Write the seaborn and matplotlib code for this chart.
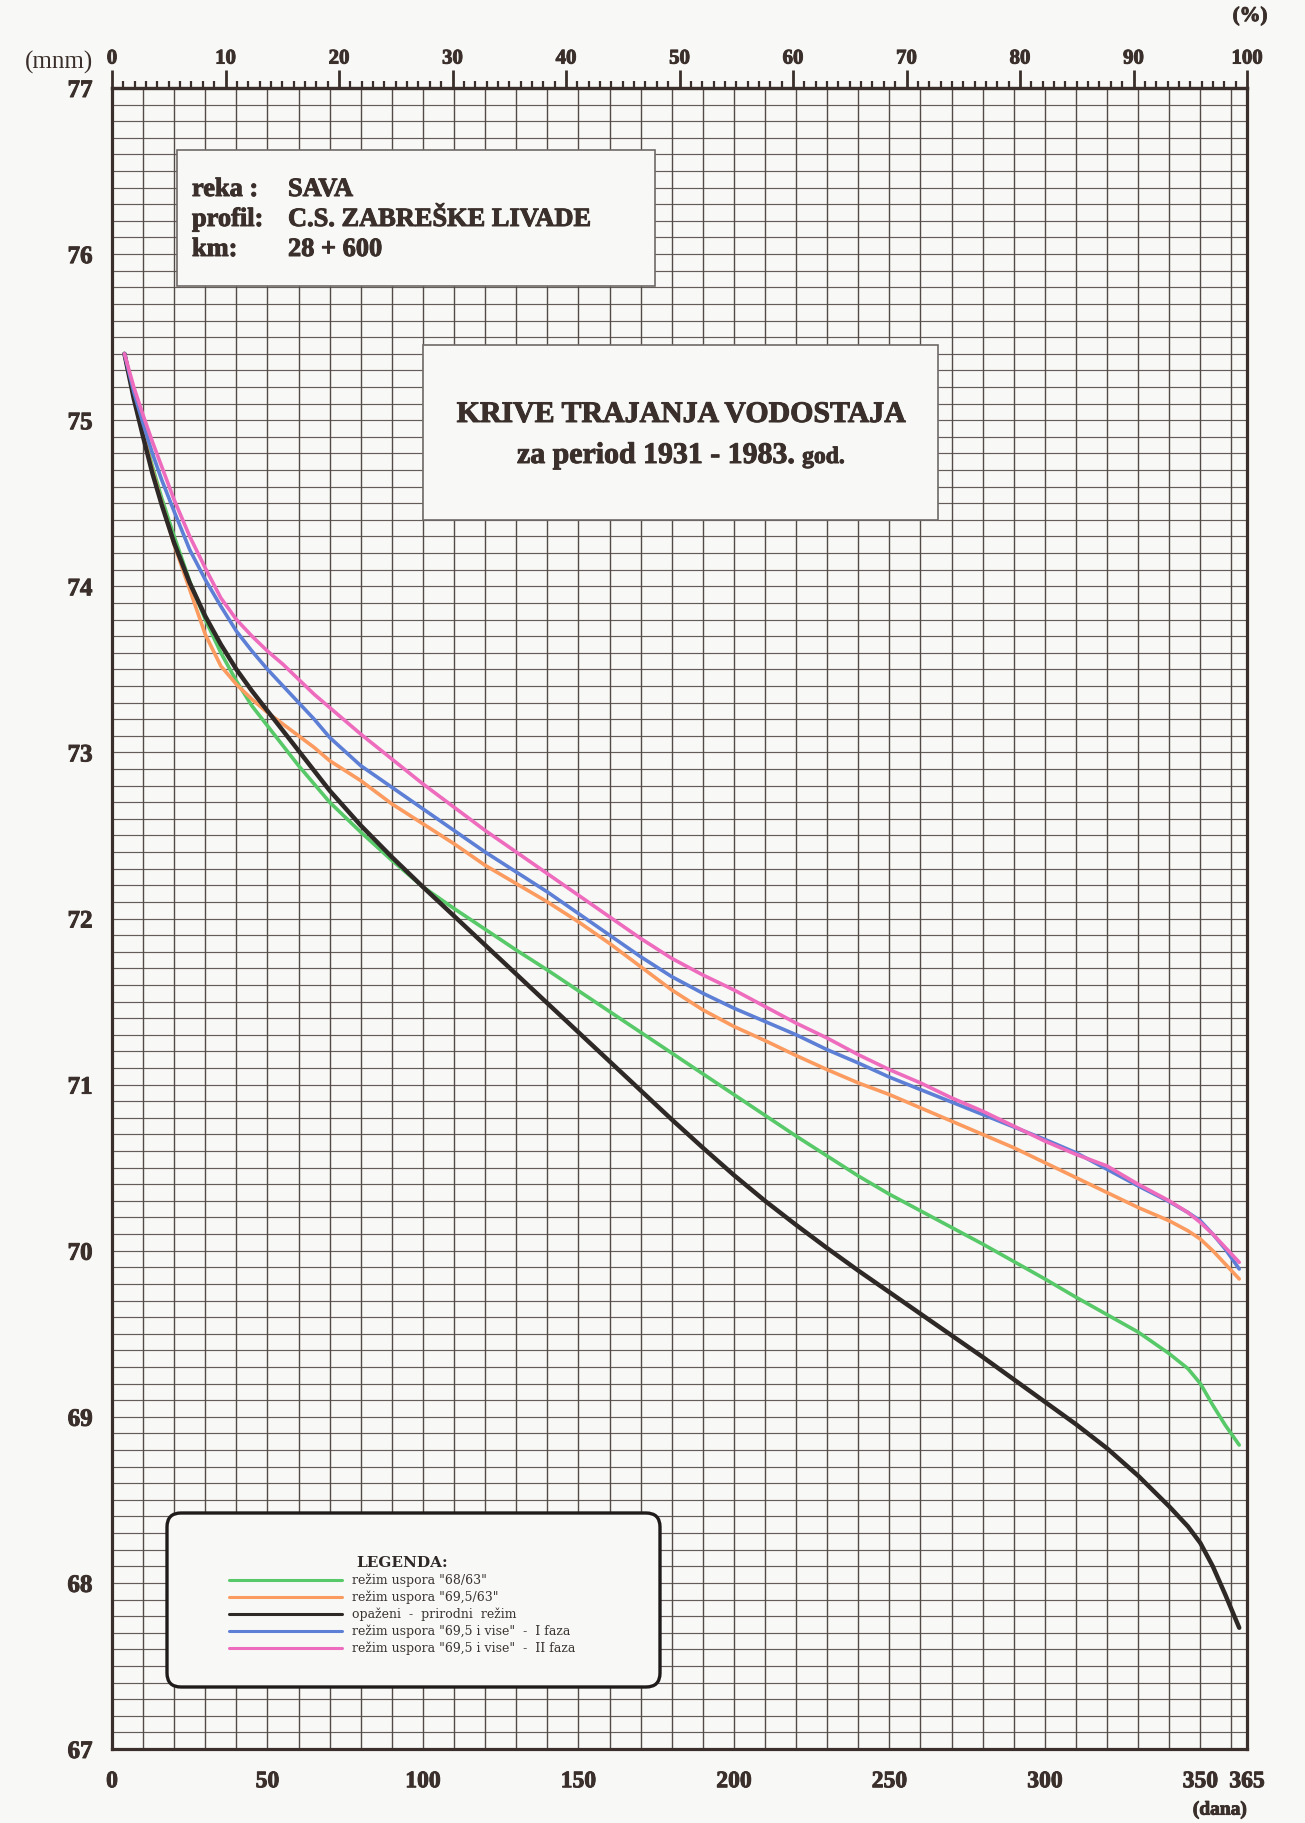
import matplotlib
matplotlib.use("Agg")
import matplotlib.pyplot as plt
import matplotlib.transforms as mtransforms
import matplotlib.patheffects as pe
from matplotlib.patches import Rectangle, FancyBboxPatch
from matplotlib.lines import Line2D
from matplotlib.ticker import MultipleLocator, FixedLocator
import pandas as pd
import seaborn as sns

# ---------------------------------------------------------------- data
# duration (days in the year) at which each water level (m n.m.) is read
days = [4, 7, 10, 13, 16, 20, 25, 30, 35, 40, 45, 50, 55, 60, 65, 70, 80, 90, 100,
        110, 120, 130, 140, 150, 160, 170, 180, 190, 200, 210, 220, 230, 240, 250,
        260, 270, 280, 290, 300, 310, 320, 330, 340, 346, 350, 354, 358, 362.5]

lvl_green = [75.40, 75.15, 74.93, 74.72, 74.53, 74.30, 74.03, 73.80, 73.60, 73.43,
             73.28, 73.16, 73.04, 72.92, 72.81, 72.70, 72.52, 72.35, 72.19, 72.06,
             71.935, 71.81, 71.69, 71.565, 71.44, 71.315, 71.19, 71.065, 70.94,
             70.815, 70.69, 70.57, 70.45, 70.34, 70.24, 70.14, 70.04, 69.935, 69.83,
             69.72, 69.615, 69.51, 69.38, 69.29, 69.20, 69.07, 68.95, 68.83]

lvl_orange = [75.40, 75.14, 74.92, 74.70, 74.50, 74.25, 73.98, 73.71, 73.52, 73.41,
              73.32, 73.24, 73.17, 73.10, 73.03, 72.95, 72.83, 72.69, 72.57, 72.45,
              72.32, 72.21, 72.10, 71.98, 71.85, 71.71, 71.57, 71.45, 71.35, 71.265,
              71.175, 71.09, 71.01, 70.94, 70.86, 70.78, 70.70, 70.62, 70.53, 70.44,
              70.35, 70.26, 70.18, 70.12, 70.07, 70.00, 69.92, 69.83]

lvl_black = [75.40, 75.13, 74.90, 74.68, 74.49, 74.26, 74.02, 73.82, 73.65, 73.50,
             73.37, 73.25, 73.13, 73.01, 72.89, 72.77, 72.56, 72.37, 72.19, 72.015,
             71.84, 71.665, 71.49, 71.315, 71.14, 70.965, 70.79, 70.62, 70.455, 70.30,
             70.155, 70.015, 69.88, 69.75, 69.62, 69.49, 69.36, 69.225, 69.09, 68.955,
             68.81, 68.645, 68.46, 68.34, 68.24, 68.10, 67.93, 67.73]

lvl_blue = [75.40, 75.17, 74.98, 74.80, 74.64, 74.45, 74.22, 74.04, 73.88, 73.73,
            73.61, 73.50, 73.40, 73.30, 73.20, 73.09, 72.92, 72.79, 72.66, 72.53,
            72.40, 72.28, 72.16, 72.03, 71.90, 71.77, 71.65, 71.55, 71.46, 71.38,
            71.30, 71.21, 71.13, 71.045, 70.97, 70.895, 70.82, 70.745, 70.67, 70.59,
            70.49, 70.39, 70.295, 70.23, 70.18, 70.10, 70.01, 69.89]

lvl_pink = [75.40, 75.20, 75.03, 74.87, 74.72, 74.52, 74.30, 74.11, 73.93, 73.80,
            73.70, 73.61, 73.53, 73.44, 73.35, 73.27, 73.11, 72.96, 72.81, 72.67,
            72.53, 72.40, 72.27, 72.14, 72.01, 71.88, 71.76, 71.66, 71.57, 71.47,
            71.37, 71.28, 71.18, 71.09, 71.01, 70.92, 70.84, 70.75, 70.66, 70.58,
            70.51, 70.40, 70.30, 70.23, 70.17, 70.10, 70.02, 69.93]

series_labels = ['režim uspora "68/63"',
                 'režim uspora "69,5/63"',
                 'opaženi  -  prirodni  režim',
                 'režim uspora "69,5 i vise"  -  I faza',
                 'režim uspora "69,5 i vise"  -  II faza']

x_day_ticks = [0, 50, 100, 150, 200, 250, 300, 350, 365]
y_level_ticks = [67, 68, 69, 70, 71, 72, 73, 74, 75, 76, 77]
pct_ticks = [0, 10, 20, 30, 40, 50, 60, 70, 80, 90, 100]

info_rows = [("reka :", "SAVA"),
             ("profil:", "C.S. ZABREŠKE LIVADE"),
             ("km:", "28 + 600")]
title_line1 = "KRIVE TRAJANJA VODOSTAJA"
title_line2 = "za period 1931 - 1983."
title_suffix = "god."

# ---------------------------------------------------------------- style
PAPER = "#f8f8f6"
INK = "#3a2f2a"
GRID = "#534b47"
colors = ["#58c968", "#fb9b5f", "#2e2826", "#5d7fd5", "#ee6cbd"]
widths = [2.6, 2.6, 3.2, 2.6, 2.6]
HEAVY = [pe.withStroke(linewidth=0.7, foreground=INK)]

W, H, DPI = 1305, 1823, 100
sns.set_theme(style="white")
plt.rcParams["font.family"] = ["Liberation Serif", "DejaVu Serif"]

fig = plt.figure(figsize=(W / DPI, H / DPI), dpi=DPI, facecolor=PAPER)
L, R, T, B = 112, 1247, 88, 1749
ax = fig.add_axes([L / W, 1 - B / H, (R - L) / W, (B - T) / H])
ax.set_facecolor(PAPER)
ax.set_axisbelow(True)

# ---------------------------------------------------------------- curves
all_lvls = [lvl_green, lvl_orange, lvl_black, lvl_blue, lvl_pink]
frames = [pd.DataFrame({"dan": days, "vodostaj": v, "rezim": lab})
          for lab, v in zip(series_labels, all_lvls)]
df = pd.concat(frames, ignore_index=True)

for i, lab in enumerate(series_labels):
    sub = df[df["rezim"] == lab]
    sns.lineplot(data=sub, x="dan", y="vodostaj", ax=ax, color=colors[i],
                 linewidth=widths[i], estimator=None, sort=False,
                 zorder=3 + i, solid_capstyle="round", solid_joinstyle="round")

ax.set_xlabel("")
ax.set_ylabel("")
ax.set_xlim(0, 365)
ax.set_ylim(67, 77)

# ---------------------------------------------------------------- axes / grid
ax.set_xticks(x_day_ticks)
ax.xaxis.set_minor_locator(FixedLocator(list(range(0, 361, 10))))
ax.set_yticks(y_level_ticks)
ax.yaxis.set_minor_locator(MultipleLocator(0.1))

ax.grid(which="both", axis="x", color=GRID, linewidth=1.0)
ax.grid(which="both", axis="y", color=GRID, linewidth=0.85, alpha=0.9)

ax.tick_params(axis="x", which="major", direction="out", length=10, width=2.2,
               color=INK, labelsize=17, labelcolor=INK, pad=6)
ax.tick_params(axis="x", which="minor", length=0)
ax.tick_params(axis="y", which="major", direction="out", length=10, width=2.2,
               color=INK, labelsize=18, labelcolor=INK, pad=4)
ax.tick_params(axis="y", which="minor", direction="out", length=6, width=1.8,
               color=INK)
for lbl in ax.get_xticklabels() + ax.get_yticklabels():
    lbl.set_fontweight("bold")
    lbl.set_path_effects(HEAVY)

for side in ["left", "right", "bottom", "top"]:
    ax.spines[side].set_visible(True)
    ax.spines[side].set_color(INK)
    ax.spines[side].set_linewidth(2.3)

sec = ax.secondary_xaxis("top", functions=(lambda d: d / 3.65, lambda p: p * 3.65))
sec.set_xticks(pct_ticks)
sec.xaxis.set_minor_locator(MultipleLocator(1))
sec.tick_params(which="major", direction="out", length=13, width=2.0, color=INK,
                labelsize=15, labelcolor=INK, pad=1)
sec.tick_params(which="minor", direction="out", length=5, width=1.6, color=INK)
sec.spines["top"].set_color(INK)
sec.spines["top"].set_linewidth(2.3)
for lbl in sec.get_xticklabels():
    lbl.set_fontweight("bold")
    lbl.set_path_effects(HEAVY)

# ---------------------------------------------------------------- overlays (pixel coords)
PX = mtransforms.IdentityTransform()


def ptext(x, y, s, **kw):
    return fig.text(x, H - y, s, transform=PX, **kw)


ptext(93, 62, "(mnm)", ha="right", va="center", fontsize=18, color=INK)
ptext(1250, 16, "(%)", ha="center", va="center", fontsize=15, fontweight="bold",
      color=INK, path_effects=HEAVY)
ptext(1220, 1810, "(dana)", ha="center", va="center", fontsize=14, fontweight="bold",
      color=INK, path_effects=HEAVY)

# info box
fig.patches.append(Rectangle((177, H - 286), 655 - 177, 286 - 150, transform=PX,
                             facecolor=PAPER, edgecolor="#6f6a67", linewidth=1.2,
                             zorder=10))
for k, (key, val) in enumerate(info_rows):
    yb = 196 + 30 * k
    ptext(192, yb, key, ha="left", va="baseline", fontsize=19, fontweight="bold",
          color=INK, zorder=11, path_effects=HEAVY)
    ptext(288, yb, val, ha="left", va="baseline", fontsize=19, fontweight="bold",
          color=INK, zorder=11, path_effects=HEAVY)

# title box
fig.patches.append(Rectangle((423, H - 520), 938 - 423, 520 - 345, transform=PX,
                             facecolor=PAPER, edgecolor="#6f6a67", linewidth=1.2,
                             zorder=10))
ptext(682, 422, title_line1, ha="center", va="baseline", fontsize=21.5,
      fontweight="bold", color=INK, zorder=11, path_effects=HEAVY)
t2 = ptext(517, 463, title_line2, ha="left", va="baseline", fontsize=21.5,
           fontweight="bold", color=INK, zorder=11, path_effects=HEAVY)
fig.canvas.draw()
bb = t2.get_window_extent()
fig.text(bb.x1 + 7, H - 463, title_suffix, transform=PX, ha="left", va="baseline",
         fontsize=17, fontweight="bold", color=INK, zorder=11, path_effects=HEAVY)

# legend box
fig.patches.append(FancyBboxPatch((167, H - 1687), 660 - 167, 1687 - 1513,
                                  boxstyle="round,pad=0,rounding_size=14",
                                  transform=PX, facecolor=PAPER, edgecolor="#1f1b1a",
                                  linewidth=2.4, zorder=10))
handles = [Line2D([], [], color=c, linewidth=2.2) for c in colors]
leg = fig.legend(handles, series_labels, title="LEGENDA:", loc="upper left",
                 bbox_to_anchor=(223, H - 1550), bbox_transform=PX, frameon=False,
                 borderpad=0, handlelength=9.0, handletextpad=0.8, labelspacing=0.28,
                 prop={"family": "DejaVu Serif", "size": 9},
                 title_fontproperties={"family": "DejaVu Serif", "size": 11,
                                       "weight": "bold"})
leg.set_zorder(12)
for txt in leg.get_texts():
    txt.set_color("#3a3431")
leg.get_title().set_color("#2e2826")

fig.savefig("out.png", dpi=DPI, facecolor=PAPER)
